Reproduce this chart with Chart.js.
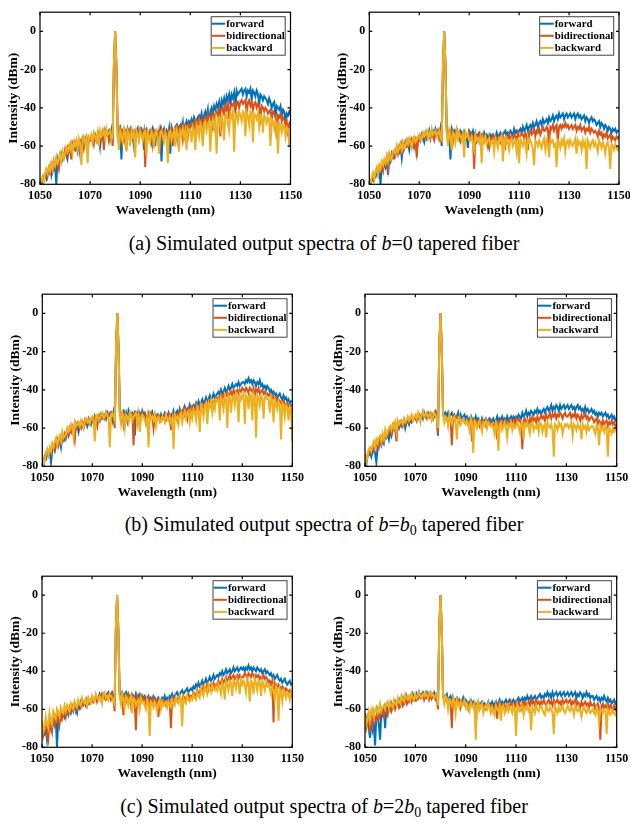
<!DOCTYPE html>
<html>
<head>
<meta charset="utf-8">
<script src="https://cdn.jsdelivr.net/npm/chart.js@4.4.0/dist/chart.umd.min.js"></script>
<style>
body { margin: 0; background: #fff; width: 630px; height: 823px; position: relative; overflow: hidden; }
canvas { position: absolute; }
.cap { position: absolute; left: 0; width: 648px; text-align: center; font: 20px "Liberation Serif", "Times New Roman", serif; line-height: 24px; color: #000; }
.cap sub { font-size: 0.7em; line-height: 0; vertical-align: -0.3em; }
</style>
</head>
<body>
<canvas id="a1"></canvas>
<canvas id="a2"></canvas>
<canvas id="b1"></canvas>
<canvas id="b2"></canvas>
<canvas id="c1"></canvas>
<canvas id="c2"></canvas>
<div class="cap" style="top:231px">(a) Simulated output spectra of <i>b</i>=0 tapered fiber</div>
<div class="cap" style="top:512px">(b) Simulated output spectra of <i>b</i>=<i>b</i><sub>0</sub> tapered fiber</div>
<div class="cap" style="top:794px">(c) Simulated output spectra of <i>b</i>=2<i>b</i><sub>0</sub> tapered fiber</div>
<script>
const wavelengths = [
  1050,1050.5,1051,1051.5,1052,1052.5,1053,1053.5,1054,1054.5,1055,1055.5,1056,1056.5,1057,1057.5,1058,1058.5,1059,1059.5,
  1060,1060.5,1061,1061.5,1062,1062.5,1063,1063.5,1064,1064.5,1065,1065.5,1066,1066.5,1067,1067.5,1068,1068.5,1069,1069.5,
  1070,1070.5,1071,1071.5,1072,1072.5,1073,1073.5,1074,1074.5,1075,1075.5,1076,1076.5,1077,1077.5,1078,1078.5,1079,1079.5,
  1080,
  1080.5,1081,1081.5,1082,1082.5,1083,1083.5,1084,1084.5,1085,1085.5,1086,1086.5,1087,1087.5,1088,1088.5,1089,1089.5,1090,
  1090.5,1091,1091.5,1092,1092.5,1093,1093.5,1094,1094.5,1095,1095.5,1096,1096.5,1097,1097.5,1098,1098.5,1099,1099.5,1100,
  1100.5,1101,1101.5,1102,1102.5,1103,1103.5,1104,1104.5,1105,1105.5,1106,1106.5,1107,1107.5,1108,1108.5,1109,1109.5,1110,
  1110.5,1111,1111.5,1112,1112.5,1113,1113.5,1114,1114.5,1115,1115.5,1116,1116.5,1117,1117.5,1118,1118.5,1119,1119.5,1120,
  1120.5,1121,1121.5,1122,1122.5,1123,1123.5,1124,1124.5,1125,1125.5,1126,1126.5,1127,1127.5,1128,1128.5,1129,1129.5,1130,
  1130.5,1131,1131.5,1132,1132.5,1133,1133.5,1134,1134.5,1135,1135.5,1136,1136.5,1137,1137.5,1138,1138.5,1139,1139.5,1140,
  1140.5,1141,1141.5,1142,1142.5,1143,1143.5,1144,1144.5,1145,1145.5,1146,1146.5,1147,1147.5,1148,1148.5,1149,1149.5,1150];
const seriesNames = ['forward', 'bidirectional', 'backward'];
const seriesColors = ['#0072BD', '#D95319', '#EDB120'];
const xTicks = [1050, 1070, 1090, 1110, 1130, 1150];
const yTicks = [-80, -60, -40, -20, 0];

// (a) b=0
const fwdA1 = [
  -80,-78,-79,-76,-75,-77,-73,-74,-71,-75,-70,-72,-69,-80,-67,-70,-66,-64,-67,-65,
  -63,-62,-66,-61,-60,-63,-59,-61,-62,-58,-60,-59,-64,-57,-58,-60,-57,-56,-62,-57,
  -56,-55,-58,-55,-54,-57,-54,-53,-60,-54,-53,-55,-52,-54,-53,-52,-56,-52,-58,-18,
  0,
  -18,-51,-53,-51,-67,-52,-51,-54,-58,-51,-53,-52,-51,-55,-60,-52,-53,-51,-56,-52,
  -51,-53,-62,-52,-51,-54,-53,-52,-57,-51,-53,-60,-52,-53,-55,-52,-68,-53,-51,-54,
  -52,-55,-51,-64,-50,-52,-54,-50,-49,-56,-50,-49,-52,-48,-57,-49,-47,-50,-47,-48,
  -46,-49,-45,-47,-52,-45,-44,-46,-43,-48,-44,-42,-45,-41,-50,-42,-40,-43,-39,-41,
  -38,-40,-37,-43,-36,-38,-35,-39,-34,-36,-33,-38,-33,-35,-32,-40,-31,-33,-32,-31,
  -30,-33,-31,-30,-34,-31,-32,-30,-36,-31,-32,-34,-31,-33,-38,-33,-34,-36,-34,-35,
  -36,-38,-35,-37,-40,-38,-37,-45,-39,-40,-41,-39,-44,-41,-42,-47,-43,-44,-42,-44];
const bidA1 = [
  -79,-80,-77,-78,-75,-73,-76,-72,-74,-70,-73,-68,-71,-67,-69,-72,-65,-67,-64,-66,
  -62,-65,-61,-63,-60,-67,-59,-61,-58,-60,-63,-57,-59,-58,-56,-61,-57,-55,-58,-56,
  -57,-55,-56,-59,-54,-55,-57,-53,-54,-56,-53,-62,-52,-54,-53,-57,-52,-53,-60,-18,
  0,
  -18,-53,-51,-56,-52,-54,-57,-51,-62,-52,-53,-51,-55,-53,-52,-58,-53,-52,-54,-51,
  -53,-55,-52,-71,-53,-54,-56,-52,-53,-59,-52,-54,-53,-55,-52,-58,-51,-53,-52,-54,
  -53,-57,-52,-54,-51,-60,-52,-51,-55,-50,-52,-53,-50,-56,-49,-51,-50,-55,-49,-50,
  -48,-50,-48,-55,-47,-49,-46,-50,-47,-58,-46,-45,-48,-44,-47,-45,-43,-52,-44,-43,
  -42,-44,-41,-55,-42,-40,-43,-39,-41,-38,-46,-40,-38,-39,-37,-42,-38,-37,-40,-37,
  -36,-38,-37,-36,-44,-37,-36,-39,-37,-41,-38,-37,-40,-38,-39,-45,-39,-40,-42,-40,
  -41,-43,-42,-41,-46,-42,-43,-44,-56,-44,-45,-43,-47,-45,-46,-49,-47,-55,-48,-47];
const bwdA1 = [
  -80,-78,-76,-79,-75,-72,-74,-71,-73,-69,-72,-68,-70,-66,-69,-67,-64,-68,-63,-66,
  -64,-61,-63,-60,-62,-59,-64,-58,-60,-57,-61,-56,-59,-70,-57,-55,-58,-56,-69,-55,
  -56,-54,-58,-53,-55,-57,-53,-60,-52,-55,-54,-52,-56,-51,-54,-53,-52,-57,-55,-18,
  0,
  -18,-54,-62,-52,-55,-58,-51,-53,-63,-52,-54,-60,-52,-55,-53,-66,-52,-54,-57,-52,
  -54,-57,-53,-52,-65,-53,-55,-58,-52,-54,-61,-53,-52,-56,-64,-53,-52,-55,-58,-53,
  -55,-69,-53,-52,-57,-54,-52,-60,-51,-53,-63,-52,-54,-51,-56,-52,-62,-51,-53,-52,
  -58,-50,-52,-62,-49,-51,-55,-48,-50,-60,-48,-47,-52,-49,-47,-63,-48,-46,-51,-47,
  -64,-46,-45,-50,-44,-47,-57,-44,-43,-48,-52,-43,-45,-42,-63,-44,-43,-47,-42,-44,
  -47,-42,-43,-55,-42,-44,-49,-42,-43,-58,-43,-44,-46,-43,-50,-44,-45,-53,-44,-45,
  -48,-45,-46,-60,-46,-47,-51,-47,-48,-64,-48,-49,-53,-49,-50,-55,-50,-51,-60,-52];
const fwdA2 = [
  -80,-79,-77,-78,-75,-76,-73,-74,-72,-80,-70,-72,-69,-71,-67,-75,-66,-68,-64,-66,
  -63,-65,-62,-61,-63,-60,-66,-59,-61,-58,-60,-59,-62,-57,-58,-60,-56,-57,-63,-56,
  -55,-57,-54,-56,-58,-54,-53,-55,-52,-56,-53,-52,-54,-51,-53,-52,-55,-51,-60,-18,
  0,
  -18,-51,-53,-52,-67,-51,-53,-52,-55,-51,-53,-56,-52,-53,-54,-52,-53,-55,-61,-52,
  -53,-54,-52,-55,-53,-57,-54,-53,-55,-54,-56,-53,-55,-54,-56,-60,-54,-55,-54,-56,
  -55,-53,-56,-54,-53,-55,-54,-53,-52,-55,-53,-54,-52,-53,-55,-51,-53,-52,-54,-52,
  -51,-53,-50,-52,-51,-49,-52,-50,-49,-51,-48,-50,-49,-47,-50,-48,-47,-49,-46,-48,
  -47,-46,-48,-45,-47,-46,-44,-47,-45,-44,-46,-43,-45,-44,-43,-46,-44,-43,-45,-44,
  -43,-45,-44,-43,-46,-44,-43,-45,-44,-46,-45,-44,-47,-45,-46,-48,-46,-45,-47,-46,
  -47,-49,-48,-47,-50,-48,-49,-51,-49,-50,-52,-50,-51,-53,-51,-52,-51,-53,-52,-52];
const bidA2 = [
  -79,-80,-78,-76,-77,-74,-73,-75,-71,-72,-70,-73,-68,-69,-67,-72,-65,-67,-64,-65,
  -66,-62,-61,-64,-60,-62,-59,-63,-61,-58,-60,-57,-59,-58,-56,-57,-60,-55,-66,-56,
  -57,-55,-54,-56,-55,-53,-56,-54,-55,-53,-52,-55,-57,-53,-54,-52,-56,-53,-58,-18,
  0,
  -18,-52,-56,-53,-54,-52,-58,-53,-55,-52,-54,-53,-57,-54,-55,-53,-56,-54,-55,-53,
  -56,-54,-55,-72,-54,-55,-57,-54,-56,-55,-54,-57,-55,-56,-60,-55,-57,-56,-55,-57,
  -55,-57,-56,-55,-58,-56,-54,-57,-60,-55,-56,-54,-57,-55,-56,-54,-55,-57,-53,-55,
  -55,-53,-54,-56,-53,-55,-62,-53,-52,-54,-53,-51,-55,-52,-53,-51,-54,-52,-50,-52,
  -52,-50,-51,-60,-50,-51,-49,-52,-50,-49,-58,-50,-49,-51,-49,-50,-48,-50,-49,-51,
  -50,-49,-51,-50,-49,-52,-50,-51,-49,-52,-51,-50,-53,-51,-52,-50,-53,-51,-52,-53,
  -52,-53,-55,-52,-54,-53,-56,-54,-55,-53,-56,-55,-54,-57,-55,-56,-57,-55,-56,-55];
const bwdA2 = [
  -78,-80,-76,-74,-77,-73,-71,-75,-70,-72,-68,-70,-67,-69,-65,-68,-64,-67,-66,-63,
  -62,-64,-60,-63,-61,-59,-62,-58,-61,-60,-57,-59,-56,-58,-61,-56,-55,-58,-57,-55,
  -54,-57,-56,-53,-55,-54,-52,-56,-53,-55,-51,-54,-53,-52,-55,-53,-52,-56,-57,-18,
  0,
  -18,-53,-60,-52,-55,-62,-53,-54,-58,-52,-56,-53,-55,-57,-54,-66,-53,-55,-54,-57,
  -57,-55,-59,-62,-54,-57,-56,-58,-55,-69,-56,-58,-55,-59,-57,-56,-60,-58,-57,-63,
  -56,-58,-61,-56,-57,-55,-68,-57,-59,-56,-58,-62,-57,-56,-60,-58,-57,-63,-56,-69,
  -56,-58,-60,-57,-59,-64,-56,-58,-57,-59,-62,-70,-57,-58,-60,-57,-59,-61,-58,-56,
  -62,-57,-59,-66,-56,-58,-57,-60,-59,-71,-57,-58,-61,-57,-59,-56,-63,-58,-57,-60,
  -57,-59,-60,-58,-56,-64,-57,-59,-58,-62,-57,-60,-58,-72,-57,-59,-61,-58,-57,-60,
  -58,-60,-63,-57,-59,-61,-58,-60,-64,-59,-58,-61,-72,-59,-60,-62,-59,-61,-62,-60];

// (b) b=b0
const fwdB1 = [
  -77,-80,-75,-76,-73,-74,-72,-78,-71,-70,-72,-69,-67,-68,-66,-70,-65,-64,-66,-63,
  -62,-64,-61,-62,-60,-63,-59,-60,-58,-62,-59,-57,-58,-60,-57,-56,-59,-57,-56,-58,
  -55,-57,-54,-56,-55,-54,-56,-53,-55,-54,-53,-55,-52,-54,-53,-52,-56,-52,-58,-18,
  0,
  -18,-51,-53,-52,-51,-54,-52,-56,-51,-53,-54,-52,-53,-64,-52,-53,-51,-52,-54,-51,
  -53,-52,-54,-55,-52,-53,-54,-52,-56,-53,-55,-53,-54,-56,-53,-55,-54,-52,-53,-54,
  -52,-54,-53,-55,-51,-53,-52,-51,-54,-50,-52,-51,-53,-49,-51,-50,-52,-48,-50,-49,
  -48,-50,-47,-49,-46,-48,-47,-45,-47,-46,-44,-46,-45,-43,-45,-44,-42,-44,-43,-42,
  -41,-43,-40,-42,-41,-39,-41,-40,-38,-40,-39,-37,-39,-38,-37,-38,-36,-38,-37,-36,
  -36,-37,-35,-36,-34,-36,-35,-37,-35,-36,-38,-36,-37,-35,-38,-37,-39,-38,-40,-38,
  -39,-41,-40,-42,-41,-43,-42,-44,-43,-42,-44,-45,-43,-45,-44,-46,-45,-47,-46,-46];
const bidB1 = [
  -76,-78,-75,-73,-74,-72,-71,-73,-69,-70,-71,-68,-66,-69,-65,-67,-64,-66,-63,-65,
  -61,-63,-60,-62,-59,-61,-66,-58,-60,-59,-58,-60,-57,-59,-56,-58,-57,-55,-57,-56,
  -55,-57,-54,-56,-59,-54,-53,-55,-54,-53,-55,-52,-54,-53,-52,-54,-53,-55,-60,-18,
  0,
  -18,-52,-54,-53,-58,-52,-53,-55,-56,-52,-54,-53,-69,-52,-53,-55,-54,-53,-55,-52,
  -54,-53,-57,-54,-53,-55,-52,-54,-60,-53,-54,-55,-53,-54,-56,-54,-55,-53,-56,-55,
  -53,-55,-61,-53,-54,-52,-53,-56,-52,-51,-53,-52,-50,-53,-51,-55,-50,-52,-49,-51,
  -50,-51,-48,-50,-52,-48,-47,-49,-50,-47,-46,-48,-49,-46,-45,-47,-46,-48,-44,-45,
  -44,-46,-43,-45,-42,-44,-43,-41,-44,-42,-41,-43,-40,-42,-41,-40,-42,-40,-41,-39,
  -40,-41,-39,-40,-42,-39,-40,-41,-39,-43,-40,-41,-39,-42,-41,-40,-42,-41,-43,-42,
  -43,-42,-44,-45,-43,-45,-44,-46,-45,-47,-46,-48,-46,-47,-49,-47,-48,-50,-48,-48];
const bwdB1 = [
  -75,-79,-77,-73,-71,-74,-70,-72,-68,-70,-67,-65,-69,-66,-64,-67,-62,-65,-64,-63,
  -60,-62,-61,-58,-60,-65,-57,-59,-58,-57,-59,-56,-58,-60,-56,-55,-57,-56,-58,-55,
  -54,-56,-67,-54,-53,-56,-55,-53,-52,-55,-54,-52,-53,-55,-70,-53,-52,-54,-56,-18,
  0,
  -18,-53,-58,-52,-54,-60,-53,-54,-57,-52,-53,-56,-54,-53,-52,-58,-53,-62,-54,-53,
  -54,-56,-58,-54,-70,-53,-55,-54,-56,-53,-59,-55,-54,-57,-56,-54,-55,-57,-53,-55,
  -56,-54,-57,-55,-71,-53,-55,-54,-58,-53,-52,-57,-53,-51,-55,-52,-51,-57,-52,-55,
  -50,-52,-56,-49,-51,-62,-48,-50,-54,-48,-47,-58,-47,-49,-46,-52,-47,-50,-45,-46,
  -45,-56,-44,-46,-50,-43,-45,-60,-43,-44,-52,-44,-43,-48,-42,-44,-57,-43,-45,-43,
  -42,-58,-43,-44,-50,-42,-43,-56,-42,-44,-65,-43,-44,-48,-43,-44,-55,-44,-43,-45,
  -45,-52,-44,-46,-57,-45,-47,-50,-46,-48,-66,-47,-48,-54,-48,-49,-56,-49,-50,-67];
const fwdB2 = [
  -76,-79,-75,-74,-73,-75,-72,-71,-73,-78,-70,-69,-67,-69,-66,-68,-64,-65,-63,-66,
  -62,-64,-60,-61,-59,-62,-58,-60,-57,-59,-58,-56,-60,-57,-56,-58,-55,-57,-56,-55,
  -54,-56,-53,-55,-54,-53,-55,-52,-54,-53,-52,-54,-52,-53,-55,-52,-51,-53,-64,-18,
  0,
  -18,-51,-53,-52,-54,-52,-55,-53,-52,-54,-53,-55,-54,-52,-56,-53,-55,-54,-53,-55,
  -54,-56,-55,-54,-57,-55,-56,-54,-57,-55,-56,-58,-55,-57,-56,-55,-57,-56,-55,-57,
  -56,-55,-57,-56,-54,-57,-55,-56,-54,-56,-55,-57,-54,-56,-55,-54,-56,-54,-55,-54,
  -55,-53,-54,-55,-52,-54,-53,-51,-54,-52,-53,-51,-52,-53,-51,-52,-50,-52,-51,-53,
  -51,-50,-52,-50,-49,-51,-50,-48,-51,-49,-50,-48,-49,-51,-48,-50,-49,-48,-50,-49,
  -48,-50,-49,-48,-50,-49,-51,-49,-48,-50,-49,-51,-50,-52,-49,-51,-50,-52,-51,-50,
  -52,-51,-53,-52,-54,-52,-53,-52,-54,-53,-52,-54,-53,-55,-54,-53,-55,-54,-56,-55];
const bidB2 = [
  -75,-77,-74,-72,-73,-71,-70,-72,-68,-69,-67,-70,-66,-68,-64,-66,-63,-65,-64,-62,
  -61,-63,-60,-58,-61,-67,-57,-59,-58,-57,-59,-56,-58,-57,-55,-57,-56,-54,-56,-55,
  -54,-56,-55,-53,-55,-54,-52,-54,-53,-55,-54,-53,-52,-55,-53,-54,-52,-55,-63,-18,
  0,
  -18,-53,-55,-54,-56,-57,-54,-55,-69,-54,-56,-55,-54,-56,-55,-57,-56,-55,-57,-56,
  -56,-58,-57,-55,-67,-56,-57,-58,-56,-57,-59,-57,-56,-58,-57,-59,-58,-56,-58,-57,
  -57,-59,-58,-57,-66,-57,-58,-56,-59,-57,-58,-56,-57,-59,-56,-58,-57,-56,-58,-55,
  -57,-55,-56,-58,-71,-56,-55,-57,-56,-58,-55,-57,-54,-56,-55,-57,-54,-56,-55,-53,
  -55,-54,-56,-53,-55,-54,-52,-55,-53,-54,-52,-55,-53,-54,-52,-53,-55,-53,-52,-54,
  -54,-53,-52,-55,-53,-54,-52,-55,-53,-54,-56,-53,-55,-54,-52,-55,-54,-56,-55,-54,
  -55,-57,-56,-55,-58,-56,-57,-59,-56,-58,-57,-56,-59,-57,-58,-56,-58,-57,-59,-58];
const bwdB2 = [
  -73,-78,-75,-71,-70,-72,-69,-67,-70,-66,-68,-65,-64,-67,-63,-66,-61,-64,-62,-60,
  -59,-61,-58,-60,-57,-62,-56,-58,-57,-56,-58,-55,-57,-56,-54,-56,-55,-53,-56,-54,
  -53,-55,-52,-54,-57,-53,-51,-54,-53,-52,-55,-53,-52,-56,-54,-52,-53,-55,-60,-18,
  0,
  -18,-52,-57,-54,-55,-59,-53,-56,-58,-55,-54,-57,-66,-55,-54,-58,-56,-55,-57,-58,
  -56,-58,-61,-55,-57,-73,-56,-57,-60,-58,-56,-59,-62,-57,-58,-56,-60,-57,-58,-59,
  -58,-60,-63,-57,-59,-72,-58,-57,-61,-59,-57,-60,-65,-58,-59,-57,-61,-58,-60,-59,
  -57,-59,-62,-58,-57,-66,-58,-59,-57,-60,-63,-58,-57,-61,-59,-60,-58,-62,-57,-58,
  -62,-59,-58,-65,-57,-59,-60,-58,-61,-75,-58,-59,-61,-57,-59,-58,-63,-60,-58,-59,
  -58,-60,-59,-57,-64,-58,-59,-61,-58,-60,-59,-66,-58,-60,-59,-62,-58,-61,-60,-59,
  -59,-61,-63,-58,-60,-69,-59,-61,-60,-62,-59,-61,-75,-60,-61,-63,-60,-62,-61,-60];

// (c) b=2b0
const fwdC1 = [
  -68,-72,-73,-70,-76,-69,-67,-70,-66,-68,-67,-65,-80,-64,-66,-63,-65,-62,-64,-61,
  -61,-63,-60,-62,-59,-61,-58,-60,-62,-57,-59,-56,-58,-57,-56,-58,-55,-57,-56,-55,
  -54,-56,-55,-53,-55,-54,-52,-54,-53,-52,-54,-53,-52,-51,-53,-52,-51,-53,-58,-18,
  0,
  -18,-51,-52,-51,-54,-52,-51,-55,-52,-53,-54,-52,-53,-55,-52,-54,-53,-52,-55,-53,
  -54,-53,-55,-54,-53,-56,-54,-55,-53,-54,-55,-57,-54,-55,-56,-54,-55,-53,-56,-54,
  -55,-53,-54,-52,-54,-53,-52,-51,-53,-52,-51,-50,-52,-51,-50,-49,-51,-50,-49,-50,
  -48,-49,-47,-48,-46,-48,-47,-45,-47,-46,-44,-46,-45,-43,-45,-44,-42,-44,-43,-42,
  -43,-41,-42,-40,-42,-41,-39,-41,-40,-39,-41,-40,-38,-40,-39,-38,-40,-39,-38,-39,
  -38,-40,-38,-39,-37,-39,-38,-40,-38,-39,-40,-38,-39,-40,-39,-41,-40,-39,-41,-40,
  -41,-42,-41,-43,-42,-44,-43,-42,-44,-45,-44,-46,-45,-44,-46,-47,-46,-45,-47,-46];
const bidC1 = [
  -70,-74,-71,-68,-73,-76,-66,-69,-72,-65,-68,-64,-66,-63,-68,-62,-65,-63,-61,-64,
  -60,-62,-59,-61,-58,-60,-57,-61,-59,-58,-57,-59,-56,-58,-57,-55,-58,-56,-57,-55,
  -54,-56,-55,-53,-56,-54,-53,-55,-52,-54,-53,-55,-54,-52,-53,-55,-52,-54,-61,-18,
  0,
  -18,-52,-54,-53,-63,-53,-54,-56,-52,-54,-58,-53,-55,-54,-71,-53,-55,-54,-56,-53,
  -55,-54,-57,-55,-54,-58,-55,-56,-54,-57,-56,-55,-64,-56,-55,-57,-55,-56,-58,-57,
  -56,-55,-70,-55,-54,-57,-55,-56,-54,-53,-56,-55,-53,-54,-55,-53,-52,-54,-53,-54,
  -51,-52,-53,-50,-52,-51,-49,-51,-48,-50,-49,-47,-50,-48,-47,-49,-46,-48,-47,-48,
  -45,-47,-46,-44,-46,-45,-43,-45,-44,-42,-44,-43,-42,-44,-43,-42,-44,-42,-43,-43,
  -43,-41,-42,-44,-41,-42,-43,-41,-42,-44,-42,-43,-42,-44,-43,-44,-42,-44,-43,-44,
  -46,-45,-47,-45,-67,-46,-47,-49,-47,-48,-50,-48,-49,-51,-49,-50,-51,-50,-52,-50];
const bwdC1 = [
  -66,-72,-70,-64,-68,-70,-62,-66,-68,-61,-63,-65,-60,-62,-64,-59,-61,-62,-58,-61,
  -58,-60,-61,-57,-59,-60,-56,-58,-59,-55,-57,-58,-54,-56,-57,-55,-58,-54,-56,-57,
  -53,-55,-56,-52,-54,-55,-53,-54,-57,-52,-51,-54,-53,-55,-52,-53,-54,-55,-57,-18,
  0,
  -18,-53,-57,-52,-55,-60,-53,-54,-58,-55,-53,-62,-54,-55,-58,-56,-55,-60,-54,-56,
  -56,-58,-60,-55,-57,-74,-56,-57,-59,-56,-58,-61,-57,-55,-60,-56,-58,-57,-56,-59,
  -56,-58,-59,-55,-57,-58,-54,-56,-57,-53,-55,-69,-54,-56,-57,-53,-55,-56,-54,-55,
  -52,-54,-55,-51,-53,-54,-49,-51,-53,-48,-50,-52,-47,-49,-51,-47,-49,-50,-48,-50,
  -47,-49,-52,-46,-48,-55,-45,-47,-50,-45,-46,-53,-45,-46,-49,-44,-46,-52,-44,-47,
  -45,-47,-51,-44,-46,-56,-45,-46,-52,-44,-46,-50,-45,-46,-53,-45,-47,-50,-46,-48,
  -47,-49,-52,-48,-50,-55,-48,-50,-66,-49,-51,-56,-50,-51,-54,-51,-52,-55,-51,-54];
const fwdC2 = [
  -62,-66,-64,-70,-75,-63,-71,-68,-79,-64,-62,-68,-76,-61,-63,-60,-70,-59,-61,-58,
  -60,-57,-59,-58,-56,-58,-57,-55,-58,-56,-54,-57,-55,-53,-56,-54,-53,-55,-52,-54,
  -55,-52,-54,-51,-53,-52,-51,-53,-52,-51,-53,-52,-51,-54,-52,-51,-53,-52,-57,-18,
  0,
  -18,-52,-54,-53,-52,-56,-54,-53,-55,-54,-56,-55,-54,-56,-55,-57,-56,-54,-57,-55,
  -56,-58,-56,-55,-57,-56,-58,-57,-59,-56,-58,-57,-56,-58,-57,-59,-58,-56,-58,-57,
  -56,-58,-57,-56,-58,-57,-55,-57,-56,-58,-56,-55,-57,-56,-55,-57,-56,-55,-57,-56,
  -55,-54,-56,-55,-54,-56,-54,-55,-53,-55,-54,-53,-55,-54,-53,-55,-54,-53,-52,-54,
  -53,-54,-52,-53,-51,-53,-52,-54,-51,-53,-52,-51,-53,-52,-51,-53,-52,-51,-53,-52,
  -51,-53,-52,-51,-53,-52,-51,-54,-52,-53,-51,-52,-54,-52,-53,-51,-53,-52,-54,-53,
  -53,-55,-54,-53,-55,-54,-56,-54,-55,-53,-55,-56,-54,-56,-55,-57,-56,-55,-57,-56];
const bidC2 = [
  -64,-70,-67,-66,-72,-63,-68,-62,-65,-66,-61,-65,-63,-60,-62,-64,-59,-61,-63,-58,
  -58,-61,-59,-57,-60,-58,-56,-59,-57,-55,-58,-56,-54,-57,-55,-56,-54,-56,-53,-55,
  -53,-55,-54,-52,-54,-53,-52,-55,-53,-54,-52,-55,-53,-54,-52,-53,-55,-54,-60,-18,
  0,
  -18,-53,-56,-54,-55,-58,-55,-56,-70,-54,-56,-55,-57,-56,-55,-59,-56,-57,-56,-58,
  -57,-60,-58,-56,-58,-57,-59,-68,-58,-57,-60,-58,-57,-59,-58,-60,-59,-57,-59,-58,
  -58,-61,-59,-57,-65,-58,-60,-58,-57,-59,-58,-60,-57,-59,-58,-56,-58,-57,-59,-57,
  -58,-56,-58,-60,-57,-59,-56,-58,-57,-56,-58,-55,-57,-56,-58,-55,-57,-56,-58,-56,
  -57,-55,-57,-58,-56,-55,-57,-56,-58,-55,-57,-56,-55,-57,-56,-58,-55,-57,-56,-55,
  -57,-56,-55,-58,-56,-57,-55,-58,-56,-57,-59,-56,-58,-57,-56,-58,-57,-59,-56,-58,
  -58,-57,-60,-58,-57,-59,-76,-58,-57,-60,-58,-59,-57,-60,-58,-59,-61,-58,-60,-58];
const bwdC2 = [
  -63,-68,-65,-61,-66,-62,-60,-64,-61,-59,-62,-60,-57,-61,-59,-58,-60,-57,-56,-59,
  -56,-58,-59,-55,-57,-58,-54,-56,-57,-53,-55,-56,-52,-54,-55,-53,-55,-52,-54,-55,
  -52,-54,-53,-51,-53,-54,-52,-53,-51,-53,-54,-52,-51,-53,-52,-54,-53,-52,-58,-18,
  0,
  -18,-52,-57,-53,-54,-60,-55,-56,-58,-54,-56,-62,-55,-57,-59,-56,-58,-57,-55,-59,
  -57,-59,-61,-56,-58,-59,-57,-76,-58,-56,-60,-58,-57,-62,-59,-58,-60,-57,-59,-62,
  -59,-61,-63,-58,-60,-61,-58,-66,-59,-58,-62,-60,-58,-61,-59,-60,-62,-58,-60,-74,
  -58,-60,-61,-59,-58,-63,-59,-60,-58,-61,-60,-71,-59,-60,-62,-58,-60,-61,-59,-58,
  -60,-62,-63,-58,-60,-61,-59,-60,-62,-73,-58,-60,-62,-59,-61,-60,-58,-61,-62,-60,
  -58,-60,-61,-59,-60,-63,-58,-60,-61,-59,-61,-64,-60,-59,-61,-62,-59,-60,-62,-61,
  -60,-62,-63,-59,-61,-67,-60,-61,-62,-60,-61,-73,-60,-62,-63,-61,-60,-62,-63,-61];

Chart.defaults.font.family = '"Liberation Serif", "Times New Roman", serif';
Chart.defaults.font.weight = 'bold';
Chart.defaults.color = '#000';

// box round the plot with inward ticks on all four sides
const axesBox = {
  id: 'axesBox',
  afterDatasetsDraw(chart) {
    const {ctx, chartArea: a, scales: {x, y}} = chart;
    ctx.save();
    ctx.strokeStyle = '#000';
    ctx.lineWidth = 1.2;
    ctx.strokeRect(a.left, a.top, a.right - a.left, a.bottom - a.top);
    ctx.beginPath();
    x.ticks.forEach(t => {
      const px = x.getPixelForValue(t.value);
      ctx.moveTo(px, a.bottom); ctx.lineTo(px, a.bottom - 3);
      ctx.moveTo(px, a.top); ctx.lineTo(px, a.top + 3);
    });
    y.ticks.forEach(t => {
      const py = y.getPixelForValue(t.value);
      ctx.moveTo(a.left, py); ctx.lineTo(a.left + 3, py);
      ctx.moveTo(a.right, py); ctx.lineTo(a.right - 3, py);
    });
    ctx.stroke();
    ctx.restore();
  }
};

// MATLAB style legend in the upper right corner
const boxLegend = {
  id: 'boxLegend',
  afterDraw(chart) {
    const {ctx, chartArea: a} = chart;
    const bw = 74, bh = 38.5;
    const bx = a.right - 5.3 - bw, by = a.top + 4.5;
    ctx.save();
    ctx.fillStyle = '#fff';
    ctx.fillRect(bx, by, bw, bh);
    ctx.strokeStyle = '#444';
    ctx.lineWidth = 1;
    ctx.strokeRect(bx, by, bw, bh);
    ctx.font = 'bold 10.8px "Liberation Serif", "Times New Roman", serif';
    ctx.textBaseline = 'middle';
    chart.data.datasets.forEach((ds, i) => {
      const ly = by + 7 + i * 12.1;
      ctx.strokeStyle = ds.borderColor;
      ctx.lineWidth = 2;
      ctx.beginPath();
      ctx.moveTo(bx + 0.5, ly);
      ctx.lineTo(bx + 14, ly);
      ctx.stroke();
      ctx.fillStyle = '#000';
      ctx.fillText(ds.label, bx + 15, ly + 0.5);
    });
    ctx.restore();
  }
};

function series(values) {
  return values.map((v, i) => ({x: wavelengths[i], y: v}));
}

const badLengths = [];

function drawPanel(id, area, fwd, bid, bwd) {
  const cx = Math.floor(area.L - 35), cy = Math.floor(area.T - 6);
  const W = Math.ceil(area.R + 16 - cx), H = Math.ceil(area.B + 34 - cy);
  const canvas = document.getElementById(id);
  canvas.width = W;
  canvas.height = H;
  canvas.style.left = cx + 'px';
  canvas.style.top = cy + 'px';
  canvas.style.width = W + 'px';
  canvas.style.height = H + 'px';
  const values = [fwd, bid, bwd];
  values.forEach((v, i) => { if (v.length !== wavelengths.length) badLengths.push(id + ':' + i + ':' + v.length); });
  new Chart(canvas, {
    type: 'line',
    data: {
      datasets: values.map((v, i) => ({
        label: seriesNames[i],
        data: series(v),
        borderColor: seriesColors[i],
        backgroundColor: seriesColors[i],
        borderWidth: 2,
        pointRadius: 0,
        tension: 0,
        order: 3 - i,
      })),
    },
    options: {
      responsive: false,
      animation: false,
      devicePixelRatio: 1,
      events: [],
      layout: {
        padding: {
          left: area.L - 35 - cx,
          top: area.T - cy,
          right: cx + W - area.R,
          bottom: cy + H - area.B - 34,
        },
      },
      plugins: {
        legend: { display: false },
        tooltip: { enabled: false },
      },
      scales: {
        x: {
          type: 'linear',
          min: 1050,
          max: 1150,
          afterFit: s => { s.height = 34; },
          afterBuildTicks: s => { s.ticks = xTicks.map(v => ({value: v})); },
          grid: { display: false, drawTicks: false },
          border: { display: false },
          ticks: { font: { size: 12, weight: 'bold' }, padding: 4, maxRotation: 0, autoSkip: false, callback: v => String(v) },
          title: { display: true, text: 'Wavelength (nm)', font: { size: 13.5, weight: 'bold' }, padding: 0 },
        },
        y: {
          min: -80,
          max: 10,
          afterFit: s => { s.width = 35; },
          afterBuildTicks: s => { s.ticks = yTicks.map(v => ({value: v})); },
          grid: { display: false, drawTicks: false },
          border: { display: false },
          ticks: { font: { size: 12, weight: 'bold' }, padding: 4, callback: v => String(v) },
          title: { display: true, text: 'Intensity (dBm)', font: { size: 13.5, weight: 'bold' }, padding: 0 },
        },
      },
    },
    plugins: [axesBox, boxLegend],
  });
}

drawPanel('a1', {L: 40, R: 290.5, T: 7.7, B: 184.3}, fwdA1, bidA1, bwdA1);
drawPanel('a2', {L: 369.3, R: 619, T: 7.7, B: 184.3}, fwdA2, bidA2, bwdA2);
drawPanel('b1', {L: 42.3, R: 292.3, T: 289.7, B: 466.3}, fwdB1, bidB1, bwdB1);
drawPanel('b2', {L: 365, R: 616.7, T: 289.7, B: 466.3}, fwdB2, bidB2, bwdB2);
drawPanel('c1', {L: 42, R: 292.3, T: 571, B: 747.3}, fwdC1, bidC1, bwdC1);
drawPanel('c2', {L: 365, R: 616.7, T: 571, B: 747.3}, fwdC2, bidC2, bwdC2);

if (badLengths.length) throw new Error('length mismatch ' + badLengths.join(' '));
</script>
</body>
</html>
